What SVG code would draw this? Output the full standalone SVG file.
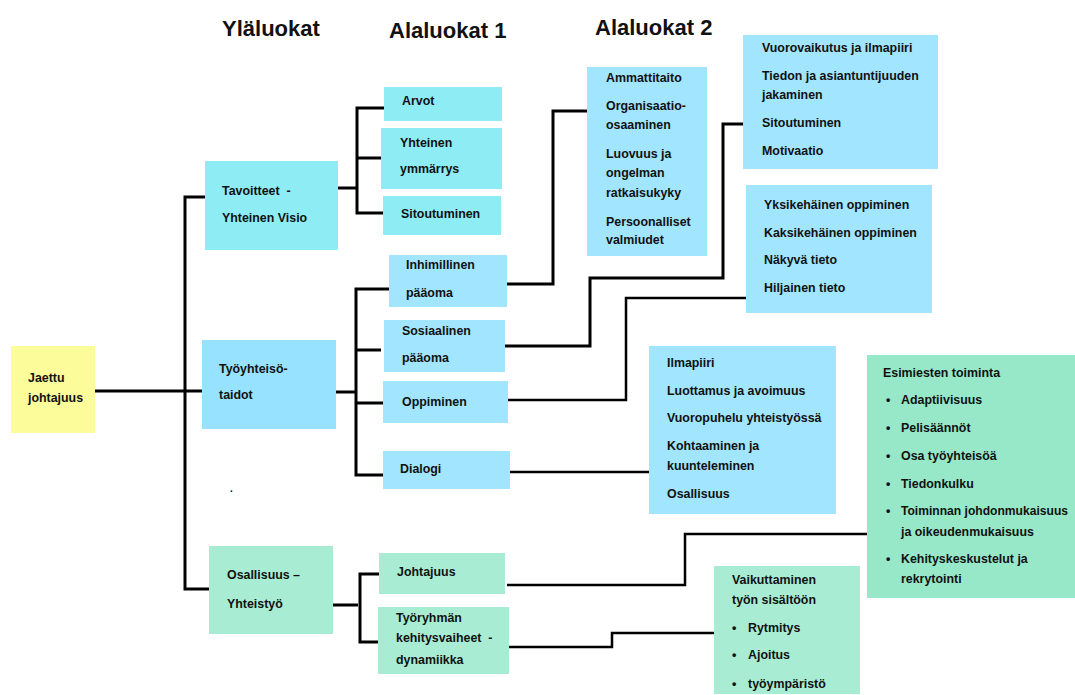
<svg xmlns="http://www.w3.org/2000/svg" width="1075" height="695" viewBox="0 0 1075 695">
<style>
text{font-family:"Liberation Sans",Arial,sans-serif;font-weight:bold;font-size:12.4px;fill:#111}
.title{font-size:22px}
.cy{fill:#8EECF4}
.bl{fill:#A2E5FE}
.bl2{fill:#97E3FF}
.gr{fill:#A8EDD3}
.gr2{fill:#97E8C8}
.ye{fill:#FCFC9A}
#connectors path{fill:none;stroke:#000;stroke-width:3;stroke-linejoin:miter}
</style>
<rect width="1075" height="695" fill="#fff"/>
<g id="titles">
<text class="title" x="222" y="36">Yläluokat</text>
<text class="title" x="389" y="38">Alaluokat 1</text>
<text class="title" x="595" y="35">Alaluokat 2</text>
</g>
<g id="connectors">
<path d="M95 391H202"/>
<path d="M205 197H185V589H209"/>
<path d="M331 188H357"/>
<path d="M384 108H357V213H383"/>
<path d="M357 158H382"/>
<path d="M336 392H356"/>
<path d="M389 289H356V475H383"/>
<path d="M356 350H381"/>
<path d="M356 403H383"/>
<path d="M497 284H553V111H587"/>
<path d="M502 346H590V278H723V124H743"/>
<path d="M505 400H626V298H746" style="stroke-width:2.5"/>
<path d="M510 472H649" style="stroke-width:2.5"/>
<path d="M333 605H358"/>
<path d="M381 574H360V642H384"/>
<path d="M507 585H685V534H867" style="stroke-width:2.5"/>
<path d="M509 647H612V633H714" style="stroke-width:2.5"/>
</g>
<g id="n-jaettu">
<rect class="ye" x="11" y="346" width="84" height="87"/>
<text x="28" y="382">Jaettu</text>
<text x="28" y="402">johtajuus</text>
</g>
<g id="n-tavoitteet">
<rect class="cy" x="205" y="161" width="133" height="89"/>
<text x="222" y="195" xml:space="preserve">Tavoitteet  -</text>
<text x="222" y="222">Yhteinen Visio</text>
</g>
<g id="n-tyoyhteiso">
<rect class="bl2" x="202" y="340" width="134" height="89"/>
<text x="219" y="373">Työyhteisö-</text>
<text x="219" y="399">taidot</text>
</g>
<g id="n-osallisuus">
<rect class="gr" x="209" y="546" width="124" height="88"/>
<text x="227" y="579">Osallisuus –</text>
<text x="227" y="608">Yhteistyö</text>
</g>
<text x="230" y="492" style="font-size:10px">.</text>
<g id="n-arvot">
<rect class="cy" x="384" y="87" width="118" height="34"/>
<text x="402" y="105">Arvot</text>
</g>
<g id="n-yhteinen">
<rect class="cy" x="381" y="128" width="121" height="61"/>
<text x="400" y="147">Yhteinen</text>
<text x="400" y="173">ymmärrys</text>
</g>
<g id="n-sitoutuminen">
<rect class="cy" x="383" y="196" width="118" height="39"/>
<text x="401" y="218">Sitoutuminen</text>
</g>
<g id="n-inhimillinen">
<rect class="bl" x="389" y="255" width="118" height="52"/>
<text x="406" y="269">Inhimillinen</text>
<text x="406" y="297">pääoma</text>
</g>
<g id="n-sosiaalinen">
<rect class="bl" x="384" y="320" width="121" height="52"/>
<text x="402" y="335">Sosiaalinen</text>
<text x="402" y="362">pääoma</text>
</g>
<g id="n-oppiminen">
<rect class="bl" x="383" y="381" width="125" height="42"/>
<text x="402" y="406">Oppiminen</text>
</g>
<g id="n-dialogi">
<rect class="bl" x="383" y="451" width="127" height="38"/>
<text x="400" y="473">Dialogi</text>
</g>
<g id="n-johtajuus">
<rect class="gr" x="379" y="553" width="126" height="41"/>
<text x="397" y="576">Johtajuus</text>
</g>
<g id="n-tyoryhman">
<rect class="gr" x="378" y="607" width="131" height="67"/>
<text x="396" y="622">Työryhmän</text>
<text x="396" y="642" xml:space="preserve">kehitysvaiheet  -</text>
<text x="396" y="664">dynamiikka</text>
</g>
<g id="n-ammattitaito">
<rect class="bl" x="587" y="67" width="120" height="189"/>
<text x="606" y="82">Ammattitaito</text>
<text x="606" y="110">Organisaatio-</text>
<text x="606" y="129">osaaminen</text>
<text x="606" y="158">Luovuus ja</text>
<text x="606" y="177">ongelman</text>
<text x="606" y="197">ratkaisukyky</text>
<text x="606" y="226">Persoonalliset</text>
<text x="606" y="244">valmiudet</text>
</g>
<g id="n-vuorovaikutus">
<rect class="bl" x="743" y="35" width="195" height="134"/>
<text x="762" y="52">Vuorovaikutus ja ilmapiiri</text>
<text x="762" y="80">Tiedon ja asiantuntijuuden</text>
<text x="762" y="99">jakaminen</text>
<text x="762" y="127">Sitoutuminen</text>
<text x="762" y="155">Motivaatio</text>
</g>
<g id="n-yksikehainen">
<rect class="bl" x="746" y="185" width="186" height="128"/>
<text x="764" y="209">Yksikehäinen oppiminen</text>
<text x="764" y="237">Kaksikehäinen oppiminen</text>
<text x="764" y="264">Näkyvä tieto</text>
<text x="764" y="292">Hiljainen tieto</text>
</g>
<g id="n-ilmapiiri">
<rect class="bl" x="649" y="346" width="187" height="168"/>
<text x="667" y="367">Ilmapiiri</text>
<text x="667" y="395">Luottamus ja avoimuus</text>
<text x="667" y="422">Vuoropuhelu yhteistyössä</text>
<text x="667" y="450">Kohtaaminen ja</text>
<text x="667" y="470">kuunteleminen</text>
<text x="667" y="498">Osallisuus</text>
</g>
<g id="n-esimiesten">
<rect class="gr2" x="867" y="355" width="208" height="243"/>
<text x="883" y="377">Esimiesten toiminta</text>
<text x="886" y="404">•</text><text x="901" y="404">Adaptiivisuus</text>
<text x="886" y="432">•</text><text x="901" y="432">Pelisäännöt</text>
<text x="886" y="460">•</text><text x="901" y="460">Osa työyhteisöä</text>
<text x="886" y="488">•</text><text x="901" y="488">Tiedonkulku</text>
<text x="886" y="515">•</text><text x="901" y="515" textLength="167" lengthAdjust="spacingAndGlyphs">Toiminnan johdonmukaisuus</text>
<text x="901" y="536">ja oikeudenmukaisuus</text>
<text x="886" y="563">•</text><text x="901" y="563">Kehityskeskustelut ja</text>
<text x="901" y="583">rekrytointi</text>
</g>
<g id="n-vaikuttaminen">
<rect class="gr" x="714" y="566" width="146" height="128"/>
<text x="732" y="584">Vaikuttaminen</text>
<text x="732" y="604">työn sisältöön</text>
<text x="732" y="632">•</text><text x="748" y="632">Rytmitys</text>
<text x="732" y="659">•</text><text x="748" y="659">Ajoitus</text>
<text x="732" y="688">•</text><text x="748" y="688">työympäristö</text>
</g>
</svg>
